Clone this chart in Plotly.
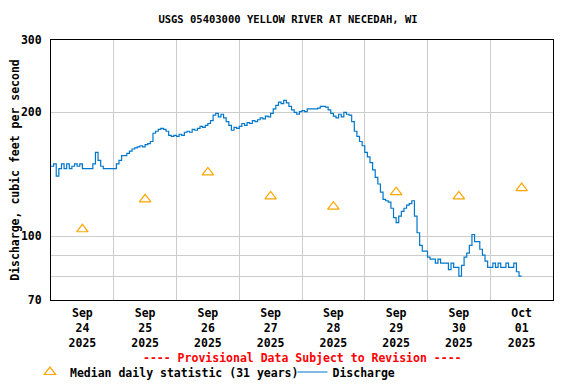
import pandas as pd
import plotly.graph_objects as go

# Hourly discharge readings (cfs)
sep24_cfs = [148, 150, 140, 146, 150, 146, 150, 146, 148, 150, 148, 150,
             146, 146, 146, 146, 150, 160, 153, 148, 146, 146, 146, 146]
sep25_cfs = [146, 150, 153, 157, 157, 159, 161, 163, 164, 165, 166, 165,
             167, 168, 170, 178, 180, 182, 183, 182, 180, 176, 175, 176]
sep26_cfs = [175, 177, 176, 179, 180, 179, 182, 181, 183, 185, 184, 186,
             188, 191, 197, 199, 195, 198, 194, 190, 186, 181, 184, 183]
sep27_cfs = [185, 188, 186, 189, 188, 191, 190, 192, 194, 193, 196, 195,
             199, 204, 208, 212, 210, 214, 211, 207, 203, 200, 198, 201]
sep28_cfs = [202, 201, 204, 204, 204, 204, 205, 207, 207, 206, 203, 199,
             196, 194, 198, 195, 200, 198, 197, 190, 180, 175, 170, 166]
sep29_cfs = [160, 156, 151, 145, 139, 134, 128, 123, 122, 121, 117, 111,
             108, 112, 115, 117, 119, 120, 122, 112, 102, 95, 92, 92]
sep30_cfs = [89, 88, 88, 86, 88, 86, 86, 86, 83, 86, 84, 84,
             80, 85, 89, 91, 95, 101, 97, 97, 93, 90, 87, 84]
oct01_cfs = [84, 86, 84, 86, 84, 84, 86, 84, 84, 86, 82, 80, 80]

discharge = sep24_cfs + sep25_cfs + sep26_cfs + sep27_cfs + sep28_cfs + sep29_cfs + sep30_cfs + oct01_cfs
discharge_time = pd.date_range("2025-09-24 00:00", periods=len(discharge), freq="h")

# Median daily statistic (31 years)
median_days = ["2025-09-24", "2025-09-25", "2025-09-26", "2025-09-27",
               "2025-09-28", "2025-09-29", "2025-09-30", "2025-10-01"]
median_cfs = [104, 123, 143, 125, 118, 128, 125, 131]
median_time = [pd.Timestamp(d) + pd.Timedelta(hours=12) for d in median_days]

tick_text = ["Sep<br>24<br>2025", "Sep<br>25<br>2025", "Sep<br>26<br>2025", "Sep<br>27<br>2025",
             "Sep<br>28<br>2025", "Sep<br>29<br>2025", "Sep<br>30<br>2025", "Oct<br>01<br>2025"]
y_ticks = [70, 100, 200, 300]
y_minor = [80, 90]

FONT = "DejaVu Sans Mono"
fig = go.Figure()
fig.add_trace(go.Scatter(
    x=median_time, y=median_cfs, mode="markers",
    marker=dict(symbol="triangle-up-open", size=10, color="#FFA500", line=dict(width=1.2)),
    name="Median daily statistic (31 years)", legend="legend"))
fig.add_trace(go.Scatter(
    x=discharge_time, y=discharge, mode="lines", line_shape="hv",
    line=dict(color="#0077CC", width=1.2), name="Discharge", legend="legend2"))

# page body has an 8px default margin, so the figure is 8px smaller than the window
W, H = 568, 376
leg_font = dict(family=FONT, size=11.5, weight="bold")
fig.update_layout(
    width=W, height=H,
    margin=dict(l=43, r=23, t=32, b=84, autoexpand=False),
    paper_bgcolor="white", plot_bgcolor="white",
    font=dict(family=FONT, size=11.5, color="black", weight="bold"),
    title=dict(text="USGS 05403000 YELLOW RIVER AT NECEDAH, WI", x=280 / W, xanchor="center",
               xref="container", y=1 - 11 / H, yanchor="middle",
               font=dict(family=FONT, size=10.5, weight="bold")),
    showlegend=True,
    legend=dict(orientation="h", x=-0.0419, xanchor="left", y=-0.277, yanchor="middle",
                font=leg_font, bgcolor="rgba(0,0,0,0)"),
    legend2=dict(orientation="h", x=0.481, xanchor="left", y=-0.277, yanchor="middle",
                 font=leg_font, bgcolor="rgba(0,0,0,0)"),
    annotations=[dict(text="---- Provisional Data Subject to Revision ----",
                      xref="paper", yref="paper", x=0.50, y=-0.223,
                      showarrow=False, xanchor="center", yanchor="middle",
                      font=dict(family=FONT, size=11.5, color="red", weight="bold"))],
)
fig.update_xaxes(
    type="date", automargin=False,
    range=["2025-09-24 00:00", "2025-10-02 00:00"],
    tickmode="array", tickvals=median_time, ticktext=tick_text,
    ticks="", ticklabelstandoff=2,
    showgrid=False, showline=True, linecolor="black", linewidth=1, mirror=True,
    tickfont=dict(family=FONT, size=11.5, weight="bold"),
    minor=dict(tick0="2025-09-24", dtick=86400000, showgrid=True, gridcolor="#CCCCCC", gridwidth=1, ticks=""),
    zeroline=False,
)
fig.update_yaxes(
    type="log", automargin=False, range=[1.845098, 2.4771213],
    tickmode="array", tickvals=y_ticks, ticktext=[str(v) for v in y_ticks],
    ticks="", ticklabelstandoff=6,
    showgrid=True, gridcolor="#CCCCCC", gridwidth=1,
    showline=True, linecolor="black", linewidth=1, mirror=True,
    tickfont=dict(family=FONT, size=11.5, weight="bold"),
    minor=dict(tickmode="array", tickvals=y_minor, showgrid=True, gridcolor="#CCCCCC", gridwidth=1, ticks=""),
    title=dict(text="Discharge, cubic feet per second", standoff=12,
               font=dict(family=FONT, size=11.5, weight="bold")),
    zeroline=False,
)

fig.write_html("out.html")
